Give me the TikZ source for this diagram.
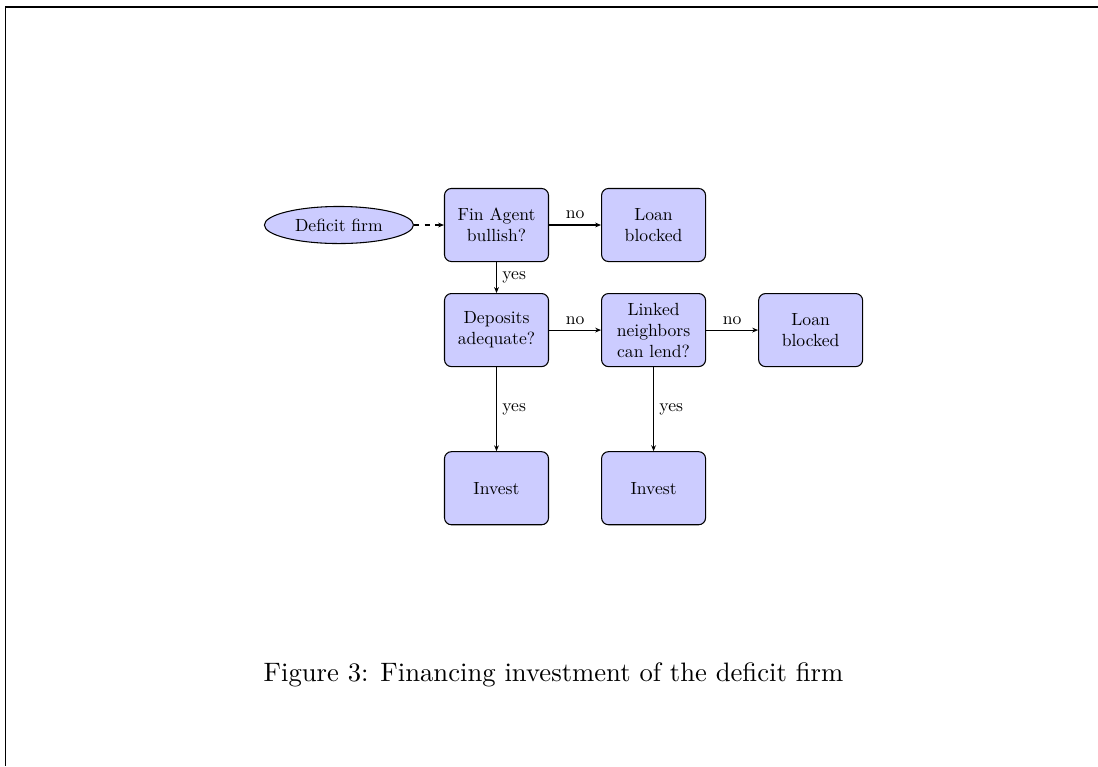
\documentclass[tikz,border=0pt]{standalone}
\usepackage{fontspec}
\newfontfamily\boxfont{lmroman10-regular.otf}
\usepackage{tikz}
\usetikzlibrary{shapes.geometric, arrows.meta, positioning}

\begin{document}
\begin{tikzpicture}[x=0.375pt, y=-0.375pt, node distance=11.6pt and 19.5pt, >={Stealth[length=2.2pt, width=1.8pt]}, line width=0.4pt]
    \tikzset{
        decision/.style={rectangle, draw=black, fill=blue!20, rounded corners=2.6pt, minimum width=39pt, minimum height=27.4pt, inner sep=1pt, align=center, font=\boxfont\fontsize{6.6}{7.9}\selectfont},
        firm/.style={ellipse, draw=black, fill=blue!20, minimum width=55.9pt, minimum height=13.9pt, inner sep=0pt, font=\boxfont\fontsize{6.6}{7.9}\selectfont},
        line/.style={draw, ->},
        lbl/.style={font=\boxfont\fontsize{6.6}{7.9}\selectfont, inner sep=2pt}
    }
    \useasboundingbox (0,0) rectangle (1098,766);
    % page edge
    \draw [line width=0.45pt] (1098,7) -- (5.5,7) -- (5.5,766);

    \node (Fin) [decision] at (496.5,225) {Fin Agent\\bullish?};
    \node (Firm) [firm, left=11.25pt of Fin] {Deficit firm};
    \node (Block1) [decision, right=of Fin] {Loan\\blocked};
    \node (Deposits) [decision, below=of Fin] {Deposits\\adequate?};
    \node (Linked) [decision, right=of Deposits] {Linked\\neighbors\\can lend?};
    \node (Block2) [decision, right=of Linked] {Loan\\blocked};
    \node (Invest1) [decision, below=31.5pt of Deposits] {Invest};
    \node (Invest2) [decision, below=31.5pt of Linked] {Invest};
    \node (Caption) [font=\fontsize{10}{12}\selectfont] at (553.5,675) {Figure 3: Financing investment of the deficit firm};

    \path [line, dash pattern=on 2pt off 2pt] (Firm) -- (Fin);
    \path [line] (Fin) -- node [lbl, above] {no} (Block1);
    \path [line] (Fin) -- node [lbl, right] {yes} (Deposits);
    \path [line] (Deposits) -- node [lbl, above] {no} (Linked);
    \path [line] (Linked) -- node [lbl, above] {no} (Block2);
    \path [line] (Deposits) -- node [lbl, right] {yes} (Invest1);
    \path [line] (Linked) -- node [lbl, right] {yes} (Invest2);

\end{tikzpicture}
\end{document}
